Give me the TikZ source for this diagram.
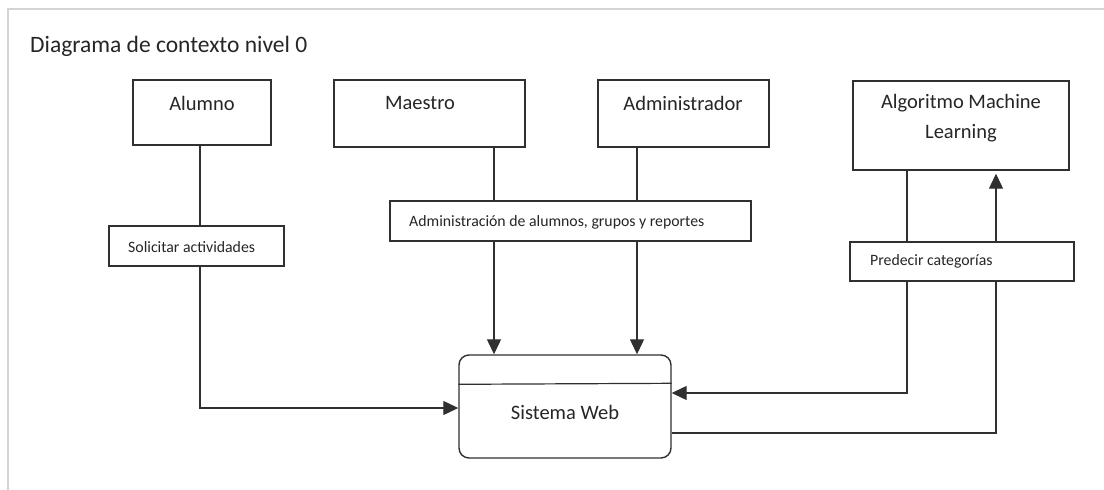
\documentclass[tikz,border=0pt]{standalone}
\usepackage{fontspec}
\setmainfont{Carlito}
\usetikzlibrary{arrows.meta,calc}
\definecolor{ink}{HTML}{303030}
\definecolor{frame}{HTML}{D4D4D4}
\begin{document}
\begin{tikzpicture}[x=1pt,y=-1pt,
  entity/.style={draw=ink, line width=1.4pt, rectangle, inner sep=0pt},
  process/.style={draw=ink, line width=1.4pt, rectangle, rounded corners=10pt, inner sep=0pt},
  conn/.style={draw=ink, line width=1.2pt},
  arr/.style={conn, -{Triangle[length=15pt,width=14pt]}},
  big/.style={font=\fontsize{20.5}{30}\selectfont, inner sep=0pt, text=black!85},
  small/.style={font=\fontsize{15.8}{18}\selectfont, inner sep=0pt, anchor=west, text=black!85},
]
\useasboundingbox (0,0) rectangle (1104,490);
\fill[white] (0,0) rectangle (1104,490);
% page frame
\draw[frame, line width=1.2pt] (8,490) -- (8,9) -- (1104,9);

% title
\node[font=\fontsize{23.5}{28}\selectfont, inner sep=0pt, anchor=west, text=black!85] (title) at (30,46) {Diagrama de contexto nivel 0};

% external entities
\node[entity, minimum width=138pt, minimum height=65pt] (alumno) at (202,112.5) {};
\node[entity, minimum width=191pt, minimum height=67pt] (maestro) at (429.5,113.5) {};
\node[entity, minimum width=171pt, minimum height=67pt] (admin) at (683.5,113.5) {};
\node[entity, minimum width=216pt, minimum height=89pt] (ml) at (961,125.5) {};

\node[big] (alumnoT) at (202,103) {Alumno};
\node[big] (maestroT) at (420,103) {Maestro};
\node[big] (adminT) at (683,103) {Administrador};
\node[big, align=center] (mlT) at (961,118) {Algoritmo Machine\\Learning};

% data flow labels
\node[entity, minimum width=175pt, minimum height=40pt] (solic) at (196.5,246) {};
\node[entity, minimum width=361pt, minimum height=40pt] (gestion) at (570.5,221) {};
\node[entity, minimum width=224pt, minimum height=39pt] (pred) at (962,261.5) {};

\node[small] (solicT) at (128,247) {Solicitar actividades};
\node[small] (gestionT) at (409,222) {Administración de alumnos, grupos y reportes};
\node[small] (predT) at (870,261) {Predecir categorías};

% process
\node[process, minimum width=212pt, minimum height=103pt] (sw) at (565,406.5) {};
\draw[ink, line width=1.2pt] ($(sw.north west)+(0,30)$) -- ($(sw.north east)+(0,29)$);
\node[big] (swT) at (565,412) {Sistema Web};

% connector lanes
\coordinate (alx) at (200,0);
\coordinate (mx) at (494,0);
\coordinate (ax) at (637,0);
\coordinate (lx) at (907,0);
\coordinate (rx) at (996,0);
\coordinate (inY) at (0,393);
\coordinate (outY) at (0,433);
\coordinate (alY) at (0,408);

% Alumno -> Sistema Web
\draw[conn] (alx |- alumno.south) -- (alx |- solic.north);
\draw[arr] (alx |- solic.south) -- (alx |- alY) -- (sw.west |- alY);

% Maestro / Administrador -> Sistema Web
\draw[conn] (mx |- maestro.south) -- (mx |- gestion.north);
\draw[arr] (mx |- gestion.south) -- (mx |- sw.north);
\draw[conn] (ax |- admin.south) -- (ax |- gestion.north);
\draw[arr] (ax |- gestion.south) -- (ax |- sw.north);

% Algoritmo ML <-> Sistema Web
\draw[conn] (lx |- ml.south) -- (lx |- pred.north);
\draw[arr] (lx |- pred.south) -- (lx |- inY) -- (sw.east |- inY);
\draw[conn] (sw.east |- outY) -- (rx |- outY) -- (rx |- pred.south);
\draw[arr] (rx |- pred.north) -- ($(rx |- ml.south)+(0,3)$);
\end{tikzpicture}
\end{document}
